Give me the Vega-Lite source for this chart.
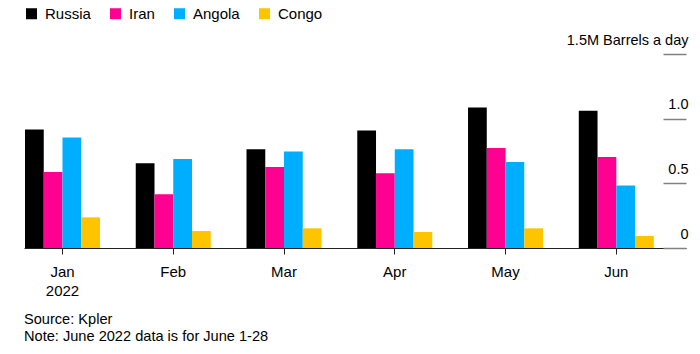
{
  "$schema": "https://vega.github.io/schema/vega-lite/v6.json",
  "width": 662,
  "height": 194,
  "padding": {"left": 24, "top": 6, "right": 4, "bottom": 4},
  "background": "white",
  "config": {"view": {"stroke": null}, "font": "Liberation Sans"},
  "title": {
    "text": ["Source: Kpler", "Note: June 2022 data is for June 1-28"],
    "orient": "bottom",
    "anchor": "start",
    "frame": "group",
    "fontSize": 14.6,
    "fontWeight": "normal",
    "lineHeight": 17,
    "baseline": "top",
    "offset": 14,
    "color": "#000000"
  },
  "data": {
    "values": [
      {"month": "Jan", "country": "Russia", "value": 0.917},
      {"month": "Jan", "country": "Iran", "value": 0.587},
      {"month": "Jan", "country": "Angola", "value": 0.855},
      {"month": "Jan", "country": "Congo", "value": 0.237},
      {"month": "Feb", "country": "Russia", "value": 0.655},
      {"month": "Feb", "country": "Iran", "value": 0.415},
      {"month": "Feb", "country": "Angola", "value": 0.688},
      {"month": "Feb", "country": "Congo", "value": 0.131},
      {"month": "Mar", "country": "Russia", "value": 0.763},
      {"month": "Mar", "country": "Iran", "value": 0.626},
      {"month": "Mar", "country": "Angola", "value": 0.747},
      {"month": "Mar", "country": "Congo", "value": 0.152},
      {"month": "Apr", "country": "Russia", "value": 0.909},
      {"month": "Apr", "country": "Iran", "value": 0.577},
      {"month": "Apr", "country": "Angola", "value": 0.763},
      {"month": "Apr", "country": "Congo", "value": 0.124},
      {"month": "May", "country": "Russia", "value": 1.087},
      {"month": "May", "country": "Iran", "value": 0.773},
      {"month": "May", "country": "Angola", "value": 0.665},
      {"month": "May", "country": "Congo", "value": 0.152},
      {"month": "Jun", "country": "Russia", "value": 1.061},
      {"month": "Jun", "country": "Iran", "value": 0.703},
      {"month": "Jun", "country": "Angola", "value": 0.484},
      {"month": "Jun", "country": "Congo", "value": 0.093}
    ]
  },
  "mark": {"type": "bar"},
  "encoding": {
    "x": {
      "field": "month",
      "type": "nominal",
      "sort": ["Jan", "Feb", "Mar", "Apr", "May", "Jun"],
      "scale": {"paddingInner": 0.3229, "paddingOuter": 0.1499, "align": 0.03, "round": false},
      "axis": {
        "title": null,
        "labelAngle": 0,
        "labelFontSize": 15,
        "labelColor": "#000000",
        "labelPadding": 10,
        "labelLineHeight": 19,
        "labelExpr": "datum.label == 'Jan' ? ['Jan', '2022'] : datum.label",
        "tickSize": 6,
        "tickColor": "#222222",
        "domainColor": "#222222",
        "domainWidth": 1,
        "tickWidth": 1
      }
    },
    "xOffset": {
      "field": "country",
      "type": "nominal",
      "sort": ["Russia", "Iran", "Angola", "Congo"]
    },
    "y": {
      "field": "value",
      "type": "quantitative",
      "scale": {"domain": [0, 1.5], "nice": false},
      "axis": {
        "title": null,
        "orient": "right",
        "offset": -23,
        "domain": false,
        "grid": false,
        "values": [0, 0.5, 1, 1.5],
        "tickSize": 23,
        "tickColor": "#808080",
        "tickWidth": 1.5,
        "labelAlign": "right",
        "labelBaseline": "alphabetic",
        "labelOffset": -10,
        "labelPadding": 2,
        "labelFontSize": 14.5,
        "labelColor": "#000000",
        "labelOverlap": false,
        "labelFlush": false,
        "labelBound": false,
        "labelExpr": "datum.value == 1.5 ? '1.5M Barrels a day' : datum.value == 0 ? '0' : format(datum.value, '.1f')"
      }
    },
    "color": {
      "field": "country",
      "type": "nominal",
      "scale": {
        "domain": ["Russia", "Iran", "Angola", "Congo"],
        "range": ["#000000", "#ff0090", "#00aeff", "#ffc400"]
      },
      "legend": {
        "title": null,
        "orient": "top",
        "direction": "horizontal",
        "symbolType": "square",
        "symbolSize": 121,
        "symbolStrokeWidth": 0,
        "labelFontSize": 15,
        "labelColor": "#000000",
        "labelOffset": 6,
        "columnPadding": 17,
        "offset": 32
      }
    }
  }
}
